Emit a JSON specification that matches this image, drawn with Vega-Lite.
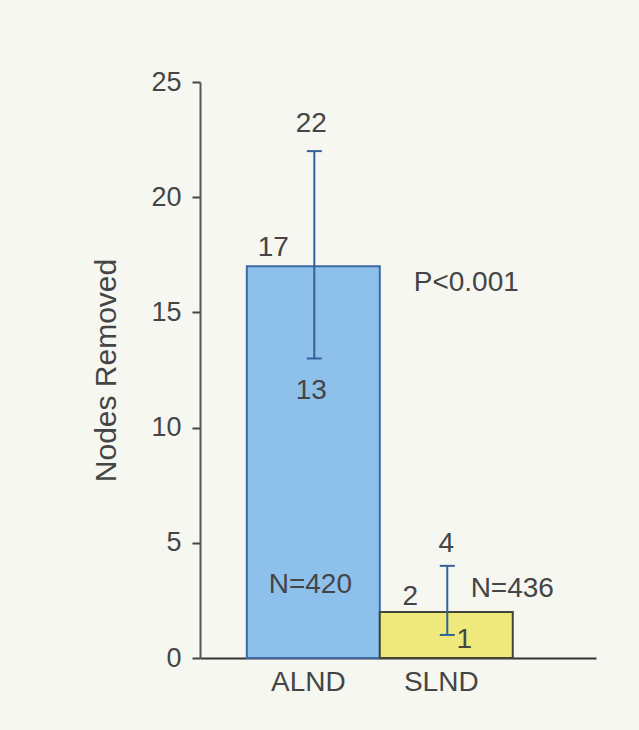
{
  "$schema": "https://vega.github.io/schema/vega-lite/v6.json",
  "width": 396,
  "height": 576,
  "autosize": {"type": "none"},
  "padding": {"left": 200, "top": 82, "right": 43, "bottom": 72},
  "background": "#f6f7f0",
  "config": {
    "view": {"stroke": null},
    "font": "Liberation Sans",
    "text": {"font": "Liberation Sans", "fontSize": 28, "color": "#454545"}
  },
  "datasets": {
    "bars": [
      {"group": "ALND", "median": 17, "low": 13, "high": 22},
      {"group": "SLND", "median": 2, "low": 1, "high": 4}
    ],
    "notes": [
      {"id": "a_hi", "group": "ALND", "pos": 23.18, "label": "22"},
      {"id": "a_med", "group": "ALND", "pos": 17.8, "label": "17"},
      {"id": "a_lo", "group": "ALND", "pos": 11.59, "label": "13"},
      {"id": "a_n", "group": "ALND", "pos": 3.17, "label": "N=420"},
      {"id": "p", "group": "SLND", "pos": 16.28, "label": "P<0.001"},
      {"id": "s_med", "group": "SLND", "pos": 2.65, "label": "2"},
      {"id": "s_hi", "group": "SLND", "pos": 4.95, "label": "4"},
      {"id": "s_lo", "group": "SLND", "pos": 0.78, "label": "1"},
      {"id": "s_n", "group": "SLND", "pos": 3.0, "label": "N=436"}
    ]
  },
  "encoding": {
    "x": {
      "field": "group",
      "type": "nominal",
      "sort": ["ALND", "SLND"],
      "scale": {"paddingInner": 0, "paddingOuter": 0.489, "align": 0.36},
      "axis": {
        "title": null,
        "labelAngle": 0,
        "labelFont": "Liberation Sans",
        "labelFontSize": 28,
        "labelColor": "#454545",
        "labelPadding": 10,
        "labelOffset": -5,
        "ticks": false,
        "domainColor": "#333333",
        "domainWidth": 2
      }
    }
  },
  "layer": [
    {
      "data": {"name": "bars"},
      "mark": {"type": "bar", "strokeWidth": 2},
      "encoding": {
        "y": {
          "field": "median",
          "type": "quantitative",
          "scale": {"domain": [0, 25], "nice": false},
          "axis": {
            "title": "Nodes Removed",
            "titleFont": "Liberation Sans",
            "titleFontSize": 30,
            "titleFontWeight": "normal",
            "titleColor": "#454545",
            "titlePadding": 29,
            "values": [0, 5, 10, 15, 20, 25],
            "labelFont": "Liberation Sans",
            "labelFontSize": 27,
            "labelColor": "#454545",
            "labelPadding": 11,
            "tickColor": "#454545",
            "tickSize": 8,
            "tickWidth": 2,
            "domainColor": "#555555",
            "domainWidth": 2,
            "grid": false
          }
        },
        "color": {
          "field": "group",
          "type": "nominal",
          "scale": {"domain": ["ALND", "SLND"], "range": ["#8ec0ec", "#eee97a"]},
          "legend": null
        },
        "stroke": {
          "field": "group",
          "type": "nominal",
          "scale": {"domain": ["ALND", "SLND"], "range": ["#3d6aa3", "#444438"]},
          "legend": null
        }
      }
    },
    {
      "data": {"name": "bars"},
      "mark": {"type": "rule", "strokeWidth": 2, "color": "#35609a", "xOffset": 1},
      "encoding": {
        "y": {"field": "low", "type": "quantitative"},
        "y2": {"field": "high"}
      }
    },
    {
      "data": {"name": "bars"},
      "mark": {"type": "tick", "thickness": 2, "size": 15, "xOffset": 1, "color": "#35609a", "opacity": 1},
      "encoding": {"y": {"field": "low", "type": "quantitative"}}
    },
    {
      "data": {"name": "bars"},
      "mark": {"type": "tick", "thickness": 2, "size": 15, "xOffset": 1, "color": "#35609a", "opacity": 1},
      "encoding": {"y": {"field": "high", "type": "quantitative"}}
    },
    {
      "data": {"name": "notes"},
      "transform": [{"filter": "datum.id === 'a_hi'"}],
      "mark": {"type": "text", "dx": -2},
      "encoding": {"y": {"field": "pos", "type": "quantitative"}, "text": {"field": "label"}}
    },
    {
      "data": {"name": "notes"},
      "transform": [{"filter": "datum.id === 's_hi'"}],
      "mark": {"type": "text", "dx": 0},
      "encoding": {"y": {"field": "pos", "type": "quantitative"}, "text": {"field": "label"}}
    },
    {
      "data": {"name": "notes"},
      "transform": [{"filter": "datum.id === 'a_med'"}],
      "mark": {"type": "text", "dx": -40},
      "encoding": {"y": {"field": "pos", "type": "quantitative"}, "text": {"field": "label"}}
    },
    {
      "data": {"name": "notes"},
      "transform": [{"filter": "datum.id === 'a_lo'"}],
      "mark": {"type": "text", "dx": -2},
      "encoding": {"y": {"field": "pos", "type": "quantitative"}, "text": {"field": "label"}}
    },
    {
      "data": {"name": "notes"},
      "transform": [{"filter": "datum.id === 'a_n'"}],
      "mark": {"type": "text", "dx": -3},
      "encoding": {"y": {"field": "pos", "type": "quantitative"}, "text": {"field": "label"}}
    },
    {
      "data": {"name": "notes"},
      "transform": [{"filter": "datum.id === 'p'"}],
      "mark": {"type": "text", "dx": 20},
      "encoding": {"y": {"field": "pos", "type": "quantitative"}, "text": {"field": "label"}}
    },
    {
      "data": {"name": "notes"},
      "transform": [{"filter": "datum.id === 's_med'"}],
      "mark": {"type": "text", "dx": -36},
      "encoding": {"y": {"field": "pos", "type": "quantitative"}, "text": {"field": "label"}}
    },
    {
      "data": {"name": "notes"},
      "transform": [{"filter": "datum.id === 's_lo'"}],
      "mark": {"type": "text", "dx": 18},
      "encoding": {"y": {"field": "pos", "type": "quantitative"}, "text": {"field": "label"}}
    },
    {
      "data": {"name": "notes"},
      "transform": [{"filter": "datum.id === 's_n'"}],
      "mark": {"type": "text", "dx": 66},
      "encoding": {"y": {"field": "pos", "type": "quantitative"}, "text": {"field": "label"}}
    }
  ]
}
